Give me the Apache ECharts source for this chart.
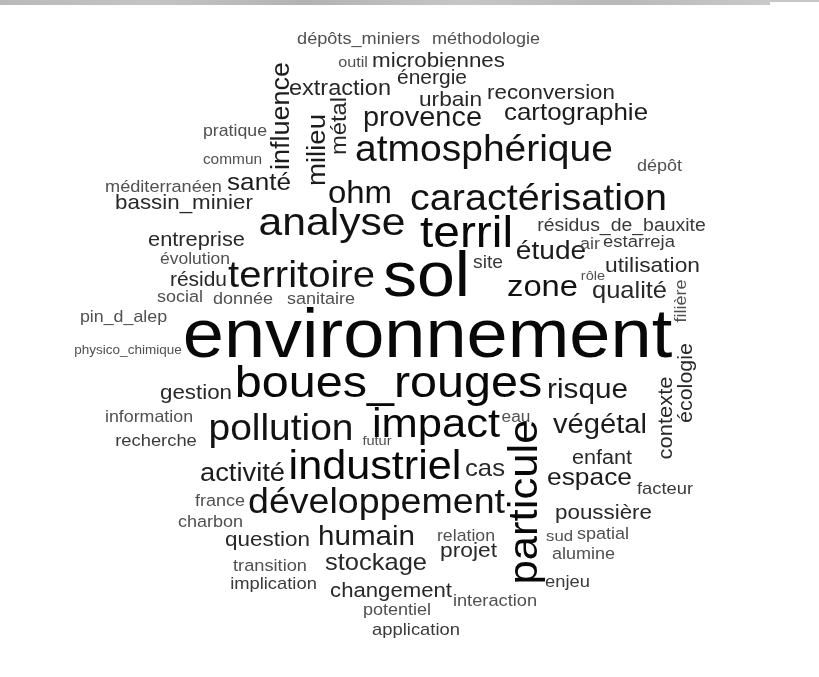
<!DOCTYPE html>
<html>
<head>
<meta charset="utf-8">
<script src="https://cdn.jsdelivr.net/npm/echarts@6/dist/echarts.min.js"></script>
<style>html,body{margin:0;padding:0;background:#fff}#c{width:819px;height:677px}</style>
</head>
<body>
<div id="c"></div>
<script>
// Words of the cloud and their relative frequency (drives font size)
const words = ['dépôts_miniers','méthodologie','outil','microbiennes','énergie','extraction','urbain','reconversion','cartographie','provence',
'atmosphérique','pratique','commun','influence','milieu','métal','dépôt','méditerranéen','santé','bassin_minier',
'ohm','analyse','caractérisation','terril','résidus_de_bauxite','entreprise','étude','air','estarreja','évolution',
'site','utilisation','résidu','territoire','sol','rôle','zone','qualité','social','donnée',
'sanitaire','filière','pin_d_alep','environnement','physico_chimique','écologie','contexte','gestion','boues_rouges','risque',
'information','recherche','pollution','futur','impact','eau','végétal','particule','industriel','activité',
'cas','enfant','espace','facteur','développement','france','charbon','poussière','question','humain',
'relation','sud','spatial','projet','alumine','transition','stockage','implication','enjeu','changement',
'interaction','potentiel','application'];
const freq = [16.8,16.7,15,20.7,19.4,21.8,21,20.7,24,26.8,
36.1,16.4,14.3,25,25.5,22,16.7,16.8,24.2,20.7,
30.5,39.5,36.6,44.3,18,20.2,26,16.7,17.1,16.2,
17.9,21.1,19.4,37.1,63,13.5,30.3,23.6,16.7,16.7,
16.7,16.7,16.5,68.5,12.5,19.9,20.3,20.7,44.9,27.5,
16.5,17,36,13.5,40.3,16,27,40.4,40,25.3,
23.8,20,24.4,17,34.8,16.7,16.7,20.7,20.8,27.4,
16.4,15.5,16.7,21.1,16.7,16.9,23.6,17,17,20.5,
16.9,16.7,17];
// Cloud layout (word anchor in layout space: centre along the text, baseline across it)
const layoutX = [358.5,486,353,438.5,432,340,450.5,551,576,422.5,
484,235,232.5,291,327,348,659.5,163.5,259,184,
360,332,538.5,466.5,621.5,196.5,551,590,639,195,
488,652.5,198.5,301.5,426.5,593,542.5,629.5,180,243,
321,687,123.5,427.5,128,693,673,196,388.5,587.5,
149,156,281,377,436,516,600,540,375,242.5,
485,602,589.5,665,376.5,220,210.5,603.5,267.5,366.5,
466,559.5,603,468.5,583.5,270,376,273.5,567.5,391,
495,397,416];
const layoutY = [45,45,68,68,85,97,107,100,122,128,
164,137,165,116,150,126,172,193,192,210,
205,238,213,250,232,247,261,250,248,265,
269,273,287,290,300,281,298,300,303,305,
305,301,323,362,355,383,418,400,400,400,
423,447,443,446,440,423,435,502,482,483,
478,465,487,495,515,507,528,520,547,547,
542,542,540,558,560,572,572,590,588,598,
607,616,636];
const vertical = [0,0,0,0,0,0,0,0,0,0,
0,0,0,1,1,1,0,0,0,0,
0,0,0,0,0,0,0,0,0,0,
0,0,0,0,0,0,0,0,0,0,
0,1,0,0,0,1,1,0,0,0,
0,0,0,0,0,0,0,1,0,0,
0,0,0,0,0,0,0,0,0,0,
0,0,0,0,0,0,0,0,0,0,
0,0,0];

const SX = 1.08;
function shade(w) {
  if (w >= 40) return '#080808';
  if (w >= 30) return '#121212';
  if (w >= 24) return '#1c1c1c';
  if (w >= 19) return '#282828';
  if (w >= 17) return '#3a3a3a';
  return '#505050';
}

const data = words.map((w, i) => [layoutX[i], layoutY[i], i]);

const chart = echarts.init(document.getElementById('c'), null, {renderer: 'canvas'});
chart.setOption({
  animation: false,
  backgroundColor: '#ffffff',
  grid: {left: 0, right: 0, top: 0, bottom: 0},
  xAxis: {type: 'value', min: 0, max: 819, show: false},
  yAxis: {type: 'value', min: 0, max: 677, inverse: true, show: false},
  graphic: [
    {type: 'rect', left: 0, top: 0, shape: {width: 770, height: 5},
     style: {fill: new echarts.graphic.LinearGradient(0, 0, 1, 0, [
       {offset: 0, color: '#b9b9b9'}, {offset: 0.2, color: '#c4c4c4'}, {offset: 0.4, color: '#b2b2b2'},
       {offset: 0.6, color: '#c6c6c6'}, {offset: 0.8, color: '#b8b8b8'}, {offset: 1, color: '#c9c9c9'}])}, silent: true},
    {type: 'rect', left: 770, top: 0, shape: {width: 49, height: 2}, style: {fill: '#c8c8c8'}, silent: true}
  ],
  series: [{
    type: 'custom',
    coordinateSystem: 'cartesian2d',
    data: data,
    silent: true,
    renderItem: function (params, api) {
      const i = api.value(2);
      const p = api.coord([api.value(0), api.value(1)]);
      const size = freq[i];
      const off = 0.3465 * size;
      const v = vertical[i] === 1;
      return {
        type: 'text',
        x: v ? p[0] - off : p[0],
        y: v ? p[1] : p[1] - off,
        rotation: v ? Math.PI / 2 : 0,
        scaleX: SX,
        style: {
          text: words[i],
          fontSize: size,
          fontFamily: 'Liberation Sans, Arial, sans-serif',
          fill: shade(size),
          align: 'center',
          verticalAlign: 'middle'
        }
      };
    }
  }]
});
</script>
</body>
</html>
